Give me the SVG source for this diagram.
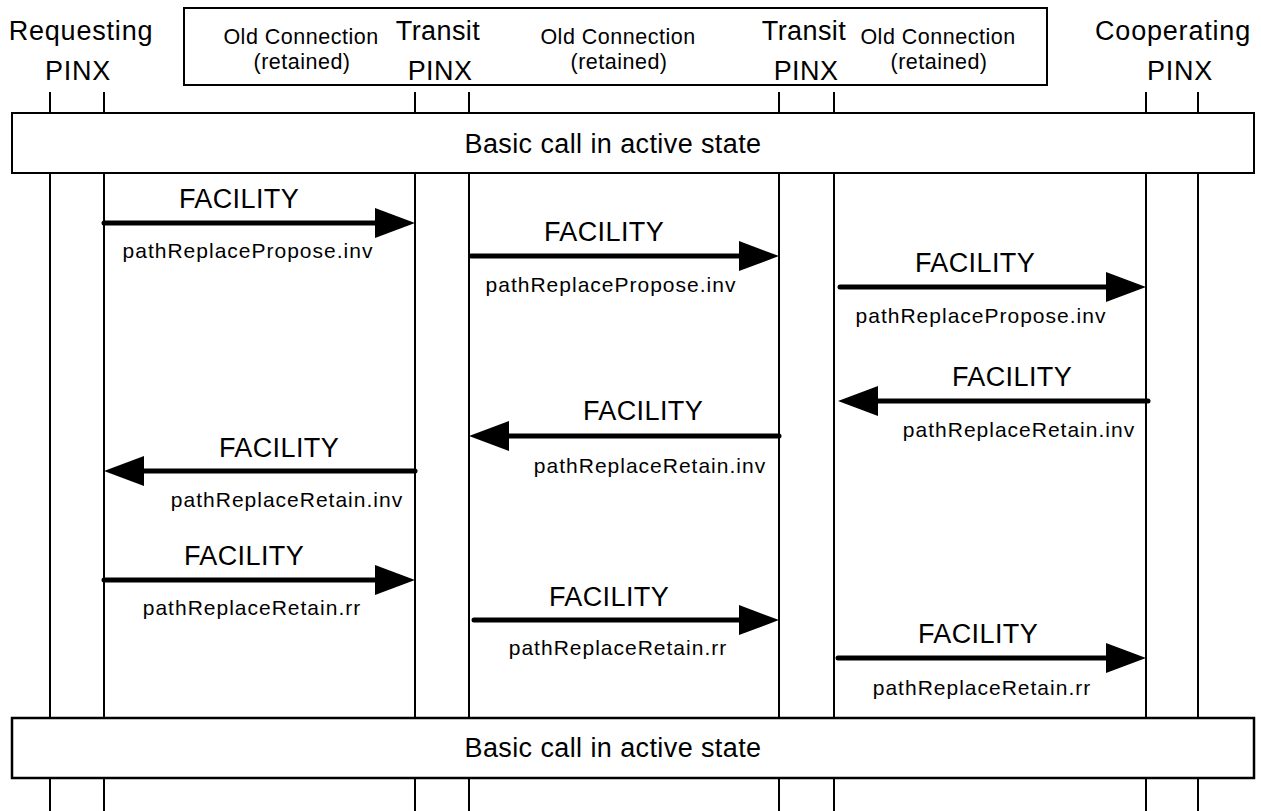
<svg xmlns="http://www.w3.org/2000/svg" width="1261" height="811" viewBox="0 0 1261 811">
<style>
.bg{fill:#fff}
.box{fill:#fff;stroke:#000;stroke-width:2}
.life{stroke:#000;stroke-width:2;fill:none}
.msg{stroke:#000;stroke-width:5;stroke-linecap:round;fill:none}
.head{fill:#000}
text{font-family:"Liberation Sans",Arial,sans-serif;fill:#000;text-anchor:middle}
.big{font-size:27px;letter-spacing:0.4px}
.hdr{font-size:27px;letter-spacing:0.8px}
.small{font-size:21.5px;letter-spacing:0.5px}
.lbl{font-size:21px;letter-spacing:1px}
</style>
<rect class="bg" x="0" y="0" width="1261" height="811"/>
<g id="lifelines">
<path class="life" d="M50 92V113M104 92V113M415 92V113M469 92V113M779 92V113M834 92V113M1146 92V113M1198 92V113"/>
<path class="life" d="M50 173V718M104 173V718M415 173V718M469 173V718M779 173V718M834 173V718M1146 173V718M1198 173V718"/>
<path class="life" d="M50 778V811M104 778V811M415 778V811M469 778V811M779 778V811M834 778V811M1146 778V811M1198 778V811"/>
</g>
<g id="header-box">
<rect class="box" x="184" y="8" width="863" height="77"/>
<text class="small" x="301" y="43.5">Old Connection</text>
<text class="small" x="302" y="68.5">(retained)</text>
<text class="small" x="618" y="43.5">Old Connection</text>
<text class="small" x="619" y="68.5">(retained)</text>
<text class="small" x="938" y="43.5">Old Connection</text>
<text class="small" x="939" y="68.5">(retained)</text>
</g>
<g id="requesting-pinx">
<text class="hdr" x="81" y="40">Requesting</text>
<text class="hdr" x="78" y="80">PINX</text>
</g>
<g id="transit-pinx-1">
<text class="big" x="438" y="40">Transit</text>
<text class="big" x="440" y="80">PINX</text>
</g>
<g id="transit-pinx-2">
<text class="big" x="804" y="40">Transit</text>
<text class="big" x="806" y="80">PINX</text>
</g>
<g id="cooperating-pinx">
<text class="hdr" x="1173" y="40">Cooperating</text>
<text class="hdr" x="1180" y="80">PINX</text>
</g>
<g id="basic-call-top">
<rect class="box" x="12" y="113" width="1242" height="60"/>
<text class="big" x="613" y="153">Basic call in active state</text>
</g>
<g id="basic-call-bottom">
<rect class="box" x="12" y="718" width="1242" height="60" style="stroke-width:2.5"/>
<text class="big" x="613" y="757">Basic call in active state</text>
</g>
<g id="connectors">
<path class="msg" d="M104 223H380"/><polygon class="head" points="375,208 415,223 375,238"/>
<path class="msg" d="M471 256H744"/><polygon class="head" points="739,241 779,256 739,271"/>
<path class="msg" d="M840 287H1111"/><polygon class="head" points="1106,272 1146,287 1106,302"/>
<path class="msg" d="M1148 401H873"/><polygon class="head" points="878,386 838,401 878,416"/>
<path class="msg" d="M779 436H504"/><polygon class="head" points="509,421 469,436 509,451"/>
<path class="msg" d="M415 471H139"/><polygon class="head" points="144,456 104,471 144,486"/>
<path class="msg" d="M104 580H380"/><polygon class="head" points="375,565 415,580 375,595"/>
<path class="msg" d="M474 620H744"/><polygon class="head" points="739,605 779,620 739,635"/>
<path class="msg" d="M838 658H1111"/><polygon class="head" points="1106,643 1146,658 1106,673"/>
</g>
<g id="labels">
<text class="big" x="239" y="208">FACILITY</text>
<text class="lbl" x="248" y="258">pathReplacePropose.inv</text>
<text class="big" x="604" y="241">FACILITY</text>
<text class="lbl" x="611" y="292">pathReplacePropose.inv</text>
<text class="big" x="975" y="272">FACILITY</text>
<text class="lbl" x="981" y="323">pathReplacePropose.inv</text>
<text class="big" x="1012" y="386">FACILITY</text>
<text class="lbl" x="1019" y="437">pathReplaceRetain.inv</text>
<text class="big" x="643" y="420">FACILITY</text>
<text class="lbl" x="650" y="473">pathReplaceRetain.inv</text>
<text class="big" x="279" y="457">FACILITY</text>
<text class="lbl" x="287" y="507">pathReplaceRetain.inv</text>
<text class="big" x="244" y="565">FACILITY</text>
<text class="lbl" x="252" y="615">pathReplaceRetain.rr</text>
<text class="big" x="609" y="606">FACILITY</text>
<text class="lbl" x="618" y="655">pathReplaceRetain.rr</text>
<text class="big" x="978" y="643">FACILITY</text>
<text class="lbl" x="982" y="695">pathReplaceRetain.rr</text>
</g>
</svg>
